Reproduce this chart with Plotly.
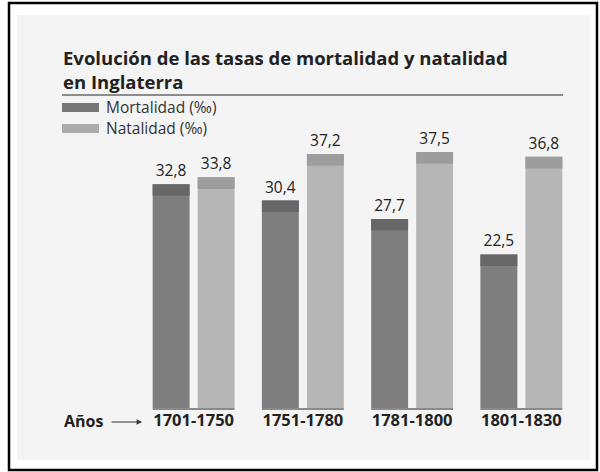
import plotly.graph_objects as go

# Data
periods = ["1701-1750", "1751-1780", "1781-1800", "1801-1830"]
mortalidad = [32.8, 30.4, 27.7, 22.5]
natalidad = [33.8, 37.2, 37.5, 36.8]
value_labels_m = ["32,8", "30,4", "27,7", "22,5"]
value_labels_n = ["33,8", "37,2", "37,5", "36,8"]

W, H = 600, 472
L, R, T, B = 139, 24, 135, 64
PW, PH = W - L - R, H - T - B

def px(x):
    return (x - L) / PW

def py(y):
    return (H - B - y) / PH

CAP = 1.7
BW = 0.338
OFF_M = -0.375
OFF_N = 0.037

col_m, col_m_cap = "#7e7e7e", "#676767"
col_n, col_n_cap = "#b6b6b6", "#9d9d9d"
font = "Open Sans"

fig = go.Figure()
fig.add_bar(x=periods, y=mortalidad, width=BW, offset=OFF_M, marker_color=col_m,
            marker_line_width=0, text=value_labels_m, textposition="outside",
            textfont=dict(family=font, size=15.5, color="#222"), cliponaxis=False,
            name="Mortalidad (‰)")
fig.add_bar(x=periods, y=natalidad, width=BW, offset=OFF_N, marker_color=col_n,
            marker_line_width=0, text=value_labels_n, textposition="outside",
            textfont=dict(family=font, size=15.5, color="#222"), cliponaxis=False,
            name="Natalidad (‰)")
fig.add_bar(x=periods, y=[CAP] * 4, base=[v - CAP for v in mortalidad], width=BW,
            offset=OFF_M, marker_color=col_m_cap, marker_line_width=0,
            showlegend=False, hoverinfo="skip")
fig.add_bar(x=periods, y=[CAP] * 4, base=[v - CAP for v in natalidad], width=BW,
            offset=OFF_N, marker_color=col_n_cap, marker_line_width=0,
            showlegend=False, hoverinfo="skip")

shapes = []
# page background and frame
shapes.append(dict(type="rect", xref="paper", yref="paper", x0=px(17), x1=px(590),
                   y0=py(460), y1=py(15), fillcolor="#f4f4f4", line_width=0, layer="below"))
shapes.append(dict(type="rect", xref="paper", yref="paper", x0=px(9), x1=px(597),
                   y0=py(470), y1=py(3), line=dict(color="#000", width=2.5)))
# title divider
shapes.append(dict(type="line", xref="paper", yref="paper", x0=px(62), x1=px(563),
                   y0=py(95), y1=py(95), line=dict(color="#8c8c8c", width=2)))
# legend swatches
shapes.append(dict(type="rect", xref="paper", yref="paper", x0=px(62), x1=px(99),
                   y0=py(112), y1=py(103), fillcolor="#767676", line_width=0))
shapes.append(dict(type="rect", xref="paper", yref="paper", x0=px(62), x1=px(99),
                   y0=py(133), y1=py(124), fillcolor="#ababab", line_width=0))
# underline under each pair
for i in range(len(periods)):
    shapes.append(dict(type="line", xref="x", yref="paper", x0=i + OFF_M, x1=i + OFF_N + BW,
                       y0=py(409), y1=py(409), line=dict(color="#8a8a8a", width=2)))

annotations = [
    dict(text="<b>Evolución de las tasas de mortalidad y natalidad<br>en Inglaterra</b>",
         xref="paper", yref="paper", x=px(61), y=py(43), xanchor="left", yanchor="top",
         align="left", showarrow=False, font=dict(family=font, size=18.5, color="#222")),
    dict(text="Mortalidad (‰)", xref="paper", yref="paper", x=px(104), y=py(107),
         xanchor="left", yanchor="middle", showarrow=False,
         font=dict(family=font, size=15.5, color="#333")),
    dict(text="Natalidad (‰)", xref="paper", yref="paper", x=px(104), y=py(128),
         xanchor="left", yanchor="middle", showarrow=False,
         font=dict(family=font, size=15.5, color="#333")),
    dict(text="<b>Años</b>", xref="paper", yref="paper", x=px(62), y=py(421),
         xanchor="left", yanchor="middle", showarrow=False,
         font=dict(family=font, size=16, color="#222")),
    dict(text="", xref="paper", yref="paper", x=px(142), y=py(422), ax=-32, ay=0,
         showarrow=True, arrowhead=2, arrowsize=0.9, arrowwidth=1.2, arrowcolor="#333"),
]

fig.update_layout(
    width=W, height=H, margin=dict(l=L, r=R, t=T, b=B),
    barmode="overlay", showlegend=False,
    paper_bgcolor="white", plot_bgcolor="rgba(0,0,0,0)",
    shapes=shapes, annotations=annotations,
    xaxis=dict(type="category", range=[-0.5, 3.5], showgrid=False, zeroline=False,
               showline=False, ticks="", tickvals=periods,
               ticktext=[f"<b>{p}</b>" for p in periods],
               tickfont=dict(family=font, size=16.5, color="#222")),
    yaxis=dict(range=[0, 40], visible=False, showgrid=False, zeroline=False),
)

fig.write_html("out.html", config={"displayModeBar": False},
               post_script="document.body.style.margin='0';")
